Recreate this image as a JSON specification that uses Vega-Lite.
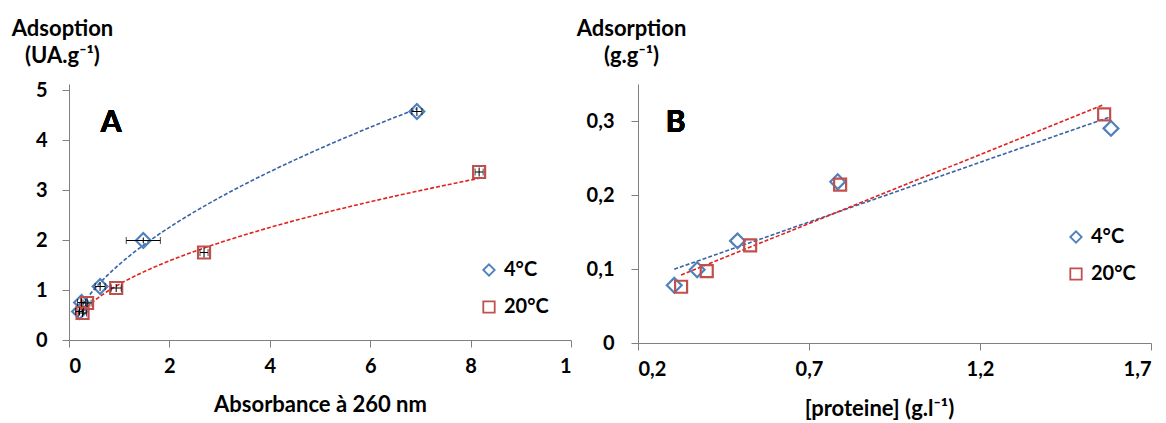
{
  "$schema": "https://vega.github.io/schema/vega-lite/v6.json",
  "background": "white",
  "padding": {"left": 11, "top": 17, "right": 5, "bottom": 5},
  "config": {
    "font": "Lato",
    "view": {"stroke": null},
    "axis": {
      "grid": false,
      "domainColor": "#808080",
      "tickColor": "#808080",
      "tickSize": 7,
      "labelFont": "Lato",
      "labelFontSize": 20,
      "labelFontWeight": "bold",
      "labelColor": "#000000",
      "titleFont": "Lato",
      "titleFontSize": 22,
      "titleFontWeight": "bold",
      "titleColor": "#000000"
    },
    "legend": {
      "labelFont": "Lato",
      "labelFontSize": 20,
      "labelFontWeight": "bold",
      "labelColor": "#000000",
      "symbolSize": 130,
      "symbolStrokeWidth": 1.8,
      "rowPadding": 17,
      "padding": 0,
      "labelOffset": 5
    }
  },
  "datasets": {
    "A": [
      {"series": "4°C", "x": 0.21, "y": 0.57, "xmin": 0.13, "xmax": 0.29, "ymin": 0.49, "ymax": 0.65},
      {"series": "4°C", "x": 0.25, "y": 0.75, "xmin": 0.17, "xmax": 0.33, "ymin": 0.67, "ymax": 0.83},
      {"series": "4°C", "x": 0.62, "y": 1.07, "xmin": 0.52, "xmax": 0.72, "ymin": 0.98, "ymax": 1.16},
      {"series": "4°C", "x": 1.48, "y": 1.99, "xmin": 1.14, "xmax": 1.82, "ymin": 1.93, "ymax": 2.05},
      {"series": "4°C", "x": 6.93, "y": 4.57, "xmin": 6.83, "xmax": 7.03, "ymin": 4.48, "ymax": 4.66},
      {"series": "20°C", "x": 0.27, "y": 0.54, "xmin": 0.19, "xmax": 0.35, "ymin": 0.46, "ymax": 0.62},
      {"series": "20°C", "x": 0.36, "y": 0.74, "xmin": 0.28, "xmax": 0.44, "ymin": 0.66, "ymax": 0.82},
      {"series": "20°C", "x": 0.94, "y": 1.04, "xmin": 0.84, "xmax": 1.04, "ymin": 0.96, "ymax": 1.12},
      {"series": "20°C", "x": 2.69, "y": 1.75, "xmin": 2.61, "xmax": 2.77, "ymin": 1.65, "ymax": 1.85},
      {"series": "20°C", "x": 8.17, "y": 3.36, "xmin": 8.09, "xmax": 8.25, "ymin": 3.27, "ymax": 3.45}
    ],
    "B": [
      {"series": "4°C", "x": 0.306, "y": 0.078},
      {"series": "4°C", "x": 0.373, "y": 0.099},
      {"series": "4°C", "x": 0.491, "y": 0.138},
      {"series": "4°C", "x": 0.784, "y": 0.218},
      {"series": "4°C", "x": 1.583, "y": 0.290},
      {"series": "20°C", "x": 0.326, "y": 0.076},
      {"series": "20°C", "x": 0.401, "y": 0.097},
      {"series": "20°C", "x": 0.528, "y": 0.132},
      {"series": "20°C", "x": 0.791, "y": 0.214},
      {"series": "20°C", "x": 1.563, "y": 0.309}
    ]
  },
  "bounds": "flush",
  "spacing": 67,
  "resolve": {"legend": {"color": "independent", "shape": "independent"}},
  "hconcat": [
    {
      "width": 502,
      "height": 256,
      "data": {"name": "A"},
      "layer": [
        {
          "transform": [{"filter": "datum.series == '4°C'"}, {"regression": "y", "on": "x", "method": "pow"}],
          "mark": {"type": "line", "color": "#3764a8", "strokeDash": [4, 2], "strokeWidth": 1.6},
          "encoding": {"x": {"field": "x", "type": "quantitative"}, "y": {"field": "y", "type": "quantitative"}}
        },
        {
          "transform": [{"filter": "datum.series == '20°C'"}, {"regression": "y", "on": "x", "method": "pow"}],
          "mark": {"type": "line", "color": "#e3211c", "strokeDash": [4, 2], "strokeWidth": 1.6},
          "encoding": {"x": {"field": "x", "type": "quantitative"}, "y": {"field": "y", "type": "quantitative"}}
        },
        {
          "mark": {"type": "point", "filled": false, "strokeWidth": 2.2, "opacity": 1},
          "encoding": {
            "x": {"field": "x", "type": "quantitative", "scale": {"domain": [0, 10], "nice": false, "zero": false},
              "axis": {"values": [0, 2, 4, 6, 8, 10], "title": "Absorbance à 260 nm", "labelExpr": "datum.value == 10 ? '1' : datum.label", "labelPadding": 9, "titlePadding": 18}},
            "y": {"field": "y", "type": "quantitative", "scale": {"domain": [0, 5.12], "nice": false},
              "axis": {"values": [0, 1, 2, 3, 4, 5], "title": ["Adsoption", "(UA.g⁻¹)"], "titleAngle": 0, "titleX": -7, "titleY": -49, "titleAlign": "center", "titleBaseline": "alphabetic", "titleLineHeight": 27, "labelPadding": 15}},
            "color": {"field": "series", "type": "nominal", "scale": {"domain": ["4°C", "20°C"], "range": ["#4f81bd", "#c0504d"]},
              "legend": {"title": null, "orient": "none", "legendX": 410, "legendY": 176}},
            "shape": {"field": "series", "type": "nominal", "scale": {"domain": ["4°C", "20°C"], "range": ["diamond", "square"]},
              "legend": {"title": null, "orient": "none", "legendX": 410, "legendY": 176}},
            "size": {"field": "series", "type": "ordinal", "scale": {"domain": ["4°C", "20°C"], "range": [220, 144]}, "legend": null}
          }
        },
        {
          "mark": {"type": "errorbar", "ticks": {"size": 7}, "color": "#000000"},
          "encoding": {"x": {"field": "xmin", "type": "quantitative", "title": "Absorbance à 260 nm"}, "x2": {"field": "xmax"}, "y": {"field": "y", "type": "quantitative"}}
        },
        {
          "mark": {"type": "rule", "color": "#000000", "strokeWidth": 1},
          "encoding": {"x": {"field": "x", "type": "quantitative"}, "y": {"field": "ymin", "type": "quantitative"}, "y2": {"field": "ymax"}}
        },
        {
          "mark": {"type": "text", "fontSize": 30, "fontWeight": "bold", "font": "Lato", "color": "#000000"},
          "encoding": {"x": {"datum": 0.84}, "y": {"datum": 4.34}, "text": {"value": "A"}}
        }
      ]
    },
    {
      "width": 513,
      "height": 259,
      "data": {"name": "B"},
      "layer": [
        {
          "transform": [{"filter": "datum.series == '4°C'"}, {"regression": "y", "on": "x", "method": "linear"}],
          "mark": {"type": "line", "color": "#3764a8", "strokeDash": [4, 2], "strokeWidth": 1.6},
          "encoding": {"x": {"field": "x", "type": "quantitative"}, "y": {"field": "y", "type": "quantitative"}}
        },
        {
          "transform": [{"filter": "datum.series == '20°C'"}, {"regression": "y", "on": "x", "method": "linear"}],
          "mark": {"type": "line", "color": "#e3211c", "strokeDash": [4, 2], "strokeWidth": 1.6},
          "encoding": {"x": {"field": "x", "type": "quantitative"}, "y": {"field": "y", "type": "quantitative"}}
        },
        {
          "mark": {"type": "point", "filled": false, "strokeWidth": 2.2, "opacity": 1},
          "encoding": {
            "x": {"field": "x", "type": "quantitative", "scale": {"domain": [0.2, 1.7], "nice": false, "zero": false},
              "axis": {"values": [0.2, 0.7, 1.2, 1.7], "title": "[proteine]  (g.l⁻¹)", "labelExpr": "replace(format(datum.value, '~g'), '.', ',')", "labelPadding": 9, "titlePadding": 19, "titleX": 241, "titleAlign": "center"}},
            "y": {"field": "y", "type": "quantitative", "scale": {"domain": [0, 0.35], "nice": false},
              "axis": {"values": [0, 0.1, 0.2, 0.3], "title": ["Adsorption", "(g.g⁻¹)"], "labelExpr": "replace(format(datum.value, '~g'), '.', ',')", "titleAngle": 0, "titleX": -7, "titleY": -49, "titleAlign": "center", "titleBaseline": "alphabetic", "titleLineHeight": 27, "labelPadding": 17}},
            "color": {"field": "series", "type": "nominal", "scale": {"domain": ["4°C", "20°C"], "range": ["#4f81bd", "#c0504d"]},
              "legend": {"title": null, "orient": "none", "legendX": 428, "legendY": 143}},
            "shape": {"field": "series", "type": "nominal", "scale": {"domain": ["4°C", "20°C"], "range": ["diamond", "square"]},
              "legend": {"title": null, "orient": "none", "legendX": 428, "legendY": 143}},
            "size": {"field": "series", "type": "ordinal", "scale": {"domain": ["4°C", "20°C"], "range": [220, 144]}, "legend": null}
          }
        },
        {
          "mark": {"type": "text", "fontSize": 30, "fontWeight": "bold", "font": "Lato", "color": "#000000"},
          "encoding": {"x": {"datum": 0.31}, "y": {"datum": 0.297}, "text": {"value": "B"}}
        }
      ]
    }
  ]
}
